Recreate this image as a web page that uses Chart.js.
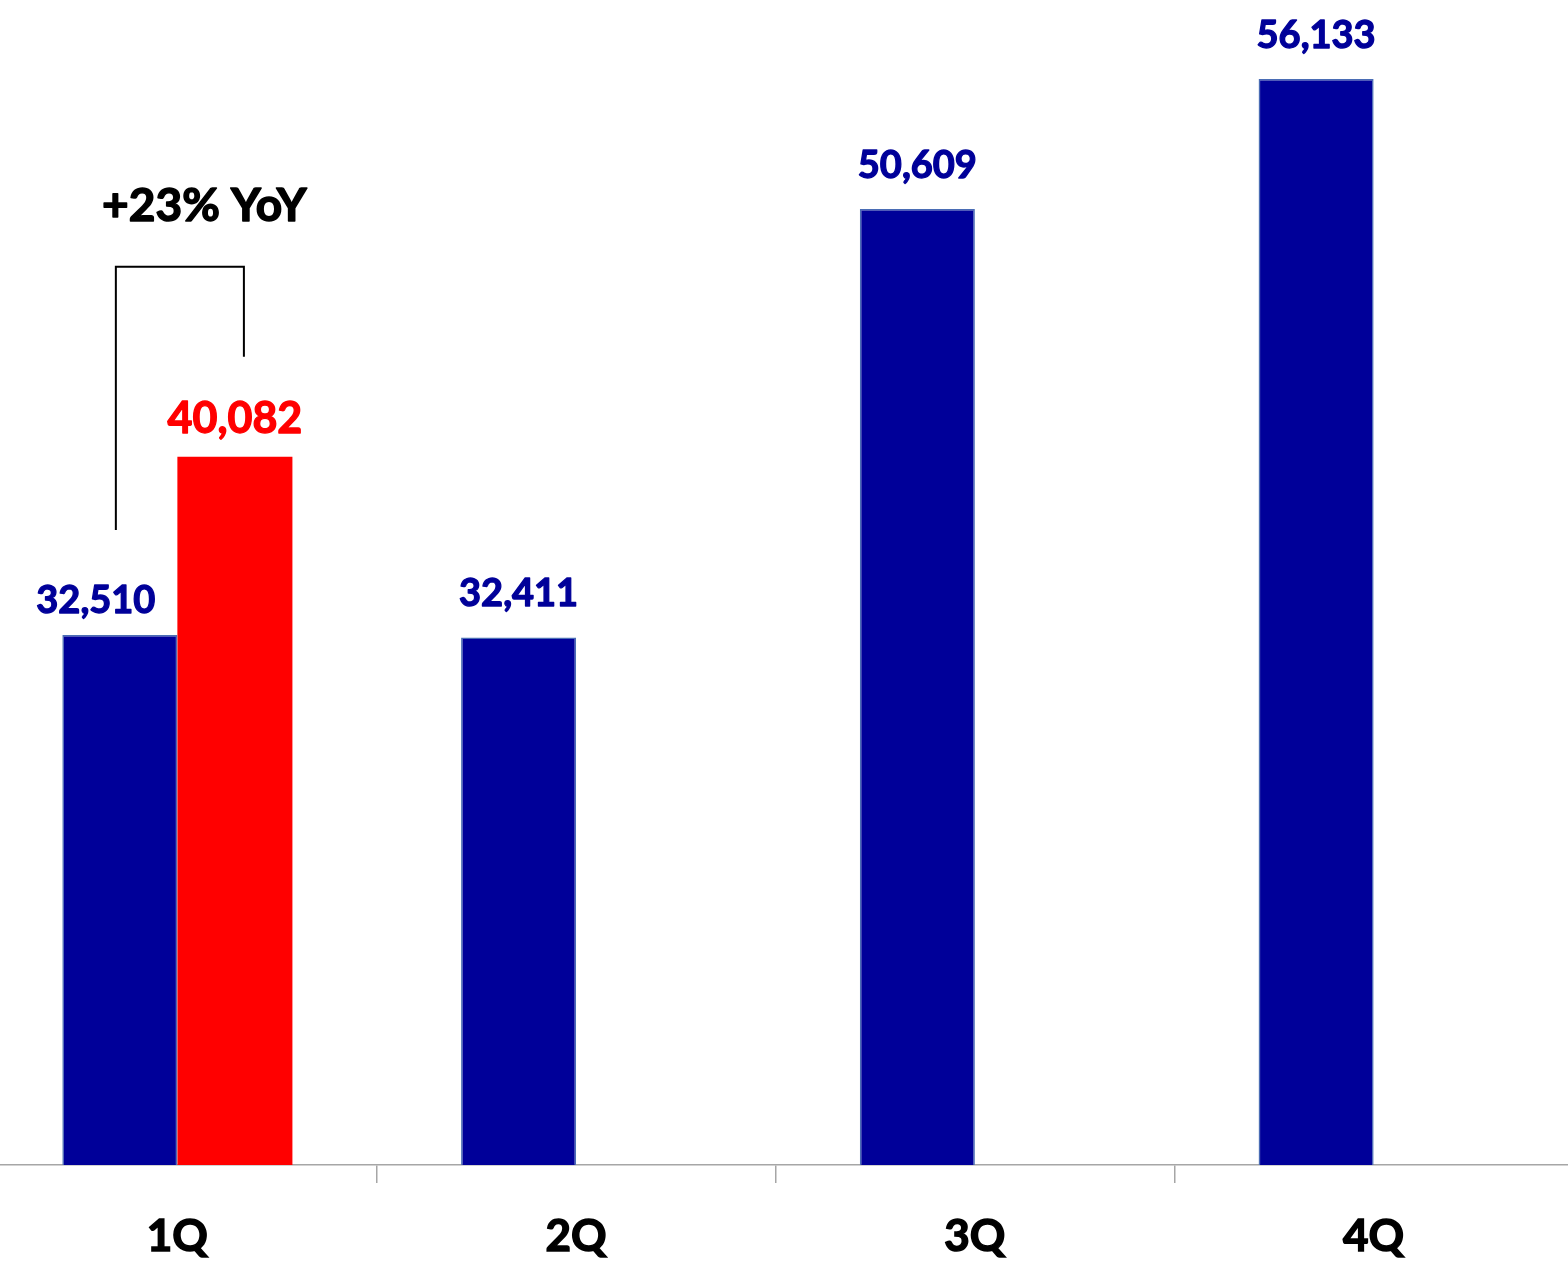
<!DOCTYPE html>
<html>
<head>
<meta charset="utf-8">
<script src="https://cdn.jsdelivr.net/npm/chart.js@4"></script>
<style>
  html, body { margin: 0; padding: 0; background: #fff; overflow: hidden; }
  #wrap { position: absolute; left: -22px; top: -12px; width: 1595px; height: 1273px; }
</style>
</head>
<body>
<div id="wrap"><canvas id="myChart"></canvas></div>
<script>
var quarters = ['1Q', '2Q', '3Q', '4Q'];
var lastYear = [32510, 32411, 50609, 56133];
var thisYear = [40082, null, null, null];
var yoyText = '+23% YoY';
var yMin = 10000;
var yMax = 60000;

var blue = '#000099';
var red = '#ff0000';
var font = 'Lato, "Open Sans", sans-serif';

function fmt(v) {
    return v.toLocaleString('en-US');
}

// fill + thin stroke, Lato bold is a bit light next to the original
function heavyText(c, txt, x, y, color, w) {
    c.fillStyle = color;
    c.strokeStyle = color;
    c.lineWidth = w;
    c.lineJoin = 'round';
    c.strokeText(txt, x, y);
    c.fillText(txt, x, y);
}

// value above every bar
var valueLabels = {
    id: 'valueLabels',
    afterDatasetsDraw: function (chart) {
        var c = chart.ctx;
        c.save();
        c.textAlign = 'center';
        c.textBaseline = 'alphabetic';
        chart.data.datasets.forEach(function (ds, di) {
            var meta = chart.getDatasetMeta(di);
            meta.data.forEach(function (bar, i) {
                var v = ds.data[i];
                if (v == null) return;
                var dx = 0;
                var gap = di == 0 ? 31 : 24;
                // first blue label is pushed left, out of the bracket
                if (di == 0 && i == 0) { dx = -24; gap = 22; }
                c.font = 'bold ' + (di == 0 ? 38 : 43) + 'px ' + font;
                heavyText(c, fmt(v), bar.x + dx, bar.y - gap, ds.labelColor, 1.3);
            });
        });
        c.restore();
    }
};

// bracket + YoY text over the 1Q pair
var yoyBracket = {
    id: 'yoyBracket',
    afterDraw: function (chart) {
        var a = chart.getDatasetMeta(0).data[0];
        var b = chart.getDatasetMeta(1).data[0];
        var c = chart.ctx;
        var top = b.y - 190;
        c.save();
        c.strokeStyle = '#000';
        c.lineWidth = 2;
        c.beginPath();
        c.moveTo(a.x - 4, a.y - 105);
        c.lineTo(a.x - 4, top);
        c.lineTo(b.x + 9, top);
        c.lineTo(b.x + 9, b.y - 100);
        c.stroke();
        c.font = 'bold 46px ' + font;
        c.textAlign = 'center';
        c.textBaseline = 'alphabetic';
        heavyText(c, yoyText, (a.x + b.x) / 2 + 27, top - 46, '#000', 1.5);
        c.restore();
    }
};

var ctx = document.getElementById('myChart');
var myChart = new Chart(ctx, {
    type: 'bar',
    data: {
        labels: quarters,
        datasets: [
            {
                label: 'Last year',
                data: lastYear,
                backgroundColor: blue,
                borderColor: '#4a6db5',
                borderWidth: 1.5,
                labelColor: blue
            },
            {
                label: 'This year',
                data: thisYear,
                backgroundColor: red,
                borderWidth: 0,
                labelColor: red
            }
        ]
    },
    options: {
        responsive: true,
        maintainAspectRatio: false,
        animation: false,
        layout: { padding: 0 },
        datasets: {
            bar: { categoryPercentage: 0.577, barPercentage: 1 }
        },
        plugins: {
            legend: { display: false },
            tooltip: { enabled: false }
        },
        scales: {
            x: {
                grid: { drawOnChartArea: false, color: '#a6a6a6', tickLength: 18, lineWidth: 1.5 },
                border: { color: '#a6a6a6', width: 1.5 },
                ticks: {
                    color: '#000',
                    padding: 27,
                    textStrokeColor: '#000',
                    textStrokeWidth: 1.5,
                    font: { family: font, size: 44, weight: 'bold' }
                },
                afterFit: function (s) { s.height = 96; }
            },
            y: { display: false, min: yMin, max: yMax }
        }
    },
    plugins: [valueLabels, yoyBracket]
});
</script>
</body>
</html>
